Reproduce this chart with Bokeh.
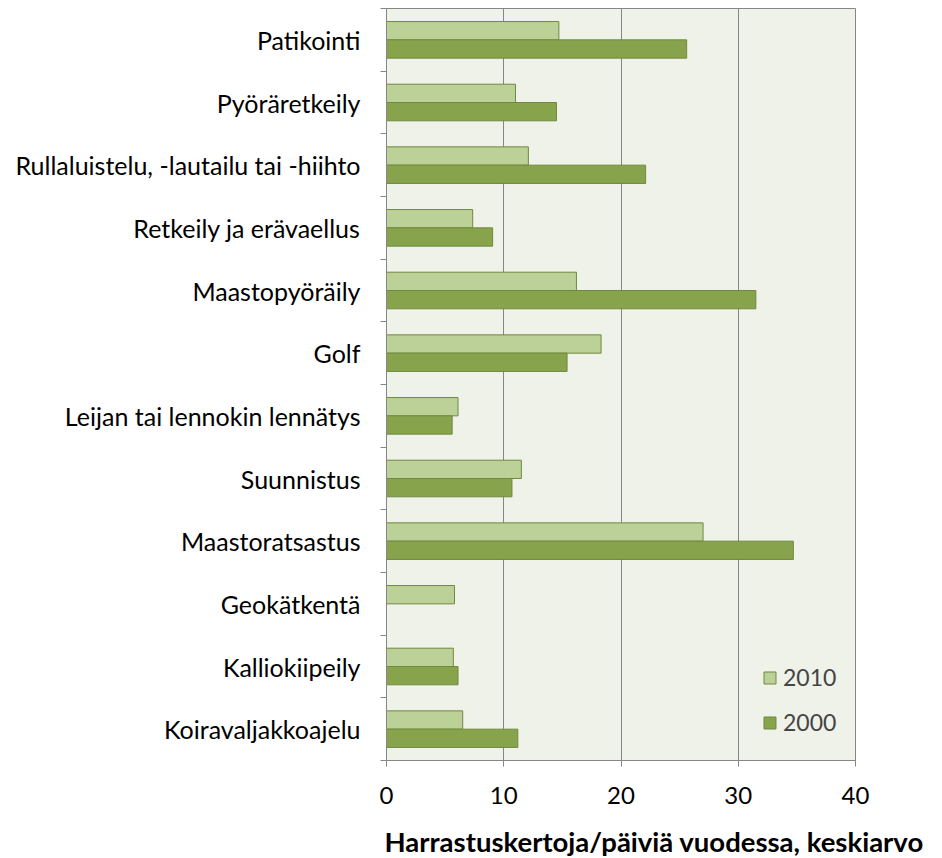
from bokeh.plotting import figure
from bokeh.models import (Range1d, FixedTicker, ColumnDataSource, Legend, LegendItem, Title)
from bokeh.transform import dodge
from bokeh.embed import file_html
from bokeh.resources import INLINE

categories = ["Patikointi", "Pyöräretkeily", "Rullaluistelu, -lautailu tai -hiihto",
              "Retkeily ja erävaellus", "Maastopyöräily", "Golf",
              "Leijan tai lennokin lennätys", "Suunnistus", "Maastoratsastus",
              "Geokätkentä", "Kalliokiipeily", "Koiravaljakkoajelu"]
v2010 = [14.7, 11.0, 12.1, 7.35, 16.2, 18.3, 6.1, 11.5, 27.0, 5.8, 5.7, 6.5]
v2000 = [25.6, 14.5, 22.1, 9.05, 31.5, 15.4, 5.6, 10.7, 34.7, float("nan"), 6.1, 11.2]
x_ticks = [0, 10, 20, 30, 40]
series_names = ["2010", "2000"]
x_title = "Harrastuskertoja/päiviä vuodessa, keskiarvo"

FONT = "Lato"
GRAY = "#868686"
LIGHT = "#BCD197"
DARK = "#87A44C"
EDGE = "#71893F"
BG = "#EFF2E9"

n = len(categories)
pos = list(range(n))
src = ColumnDataSource(dict(y=pos, v2010=v2010, v2000=v2000))

p = figure(width=934, height=858, output_backend="svg", toolbar_location=None,
           x_range=Range1d(0, 40), y_range=Range1d(n - 0.5, -0.5),
           min_border_left=386, min_border_right=79, min_border_top=8,
           min_border_bottom=96)

p.background_fill_color = BG
p.border_fill_color = "white"
p.outline_line_color = GRAY
p.outline_line_width = 1

bw = 0.292
r1 = p.hbar(y=dodge("y", -bw / 2, range=p.y_range), right="v2010", left=0, height=bw,
            source=src, fill_color=LIGHT, line_color=EDGE, line_width=1)
r2 = p.hbar(y=dodge("y", bw / 2, range=p.y_range), right="v2000", left=0, height=bw,
            source=src, fill_color=DARK, line_color=EDGE, line_width=1)

# grid
p.ygrid.grid_line_color = None
p.xgrid.grid_line_color = GRAY
p.xgrid.grid_line_width = 1
p.xgrid.ticker = FixedTicker(ticks=x_ticks)

# x axis
xa = p.xaxis[0]
xa.ticker = FixedTicker(ticks=x_ticks)
xa.axis_line_color = GRAY
xa.major_tick_line_color = GRAY
xa.major_tick_in = 0
xa.major_tick_out = 6
xa.minor_tick_line_color = None
xa.major_label_text_font = FONT
xa.major_label_text_font_size = "24px"
xa.major_label_text_color = "black"
xa.major_label_standoff = 20
# invisible spacer label to push the title panel down
xa.axis_label = " "
xa.axis_label_text_font_size = "10px"
xa.axis_label_standoff = 1

# y axis
ya = p.yaxis[0]
ya.ticker = FixedTicker(ticks=pos, minor_ticks=[i - 0.5 for i in range(n + 1)])
ya.major_label_overrides = {i: c for i, c in enumerate(categories)}
ya.axis_line_color = GRAY
ya.major_tick_line_color = None
ya.major_tick_in = 0
ya.major_tick_out = 0
ya.minor_tick_line_color = GRAY
ya.minor_tick_in = 0
ya.minor_tick_out = 6
ya.major_label_text_font = FONT
ya.major_label_text_font_size = "25px"
ya.major_label_text_color = "black"
ya.major_label_standoff = 20

# legend
legend = Legend(items=[LegendItem(label=series_names[0], renderers=[r1]),
                       LegendItem(label=series_names[1], renderers=[r2])],
                location=(376, 24), orientation="vertical")
legend.background_fill_alpha = 0
legend.border_line_color = None
legend.label_text_font = FONT
legend.label_text_font_size = "23px"
legend.glyph_width = 15
legend.glyph_height = 15
legend.spacing = 17
legend.padding = 0
legend.margin = 0
legend.label_standoff = 6
p.add_layout(legend)

t = Title(text=x_title, align="left", offset=-2, text_font=FONT,
          text_font_size="27.5px", text_font_style="bold", text_color="black",
          standoff=2)
p.add_layout(t, "below")

open("out.html", "w").write(file_html(p, INLINE))
